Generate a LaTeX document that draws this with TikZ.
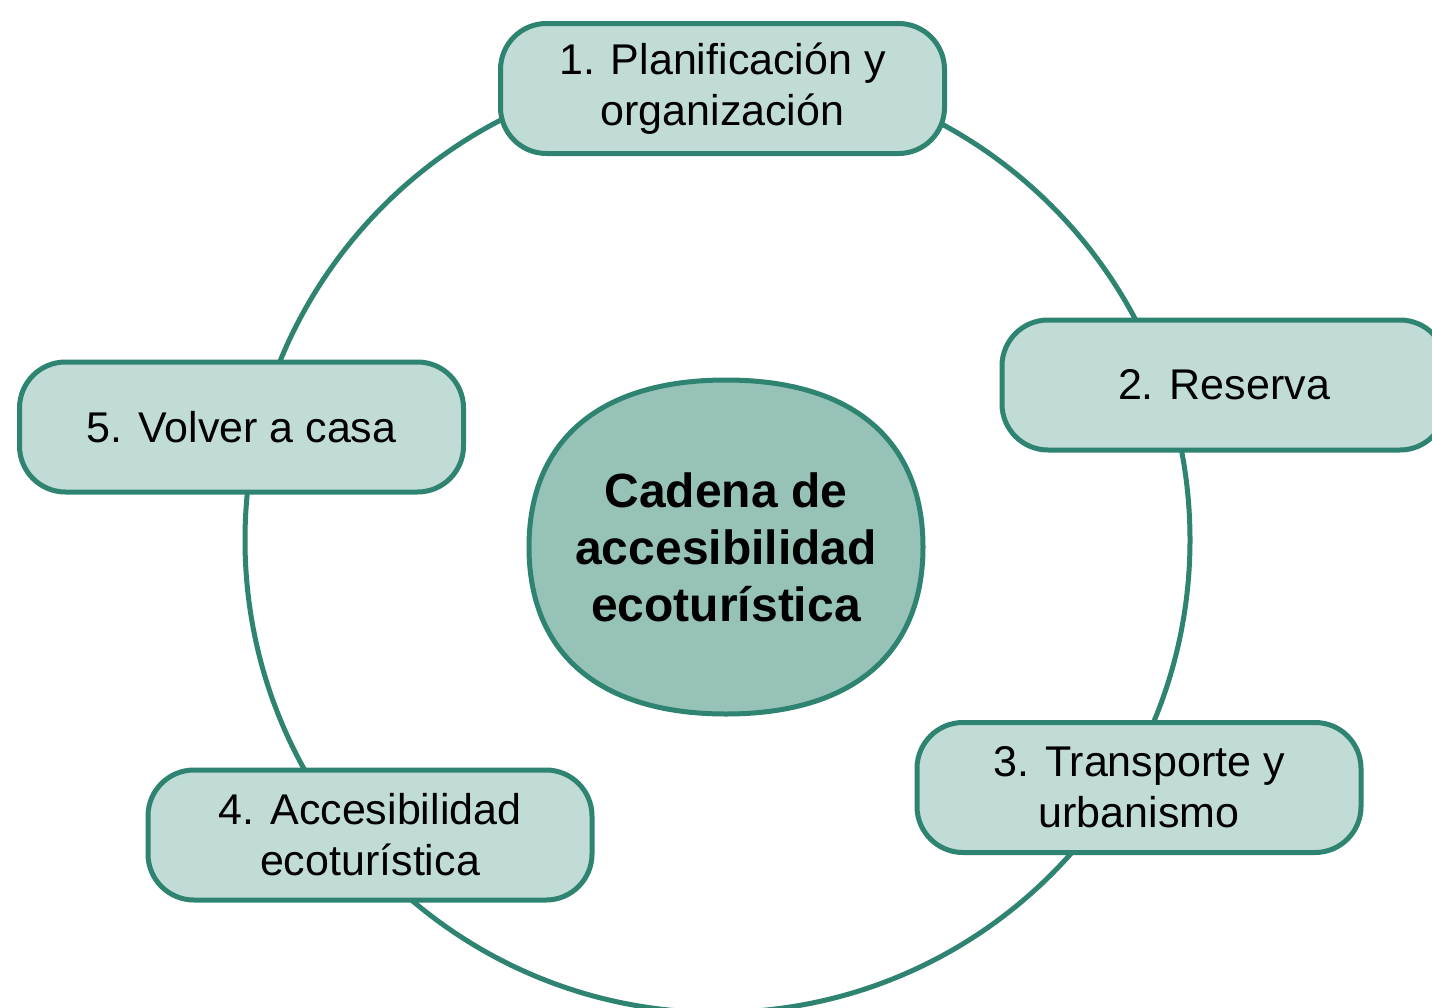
\documentclass[tikz,border=0pt]{standalone}
\usepackage{fontspec}
\setmainfont{Liberation Sans}
\definecolor{edgegreen}{HTML}{2E8470}
\definecolor{boxfill}{HTML}{C1DCD6}
\definecolor{hubfill}{HTML}{97C2B8}
\tikzset{
  ring/.style={draw=edgegreen, line width=5pt},
  stepbox/.style={draw=edgegreen, fill=boxfill, line width=5pt, rounded corners=46pt,
    minimum width=444pt, minimum height=130pt, inner sep=0pt, align=center,
    font=\fontsize{43}{51}\selectfont},
  hubshape/.style={draw=edgegreen, fill=hubfill, line width=5pt},
  hub/.style={inner sep=0pt, align=center,
    font=\fontsize{48}{57}\selectfont\bfseries}
}
\begin{document}
\begin{tikzpicture}[x=1pt,y=-1pt]
\useasboundingbox (0,0) rectangle (1432,1007);
\fill[white] (0,0) rectangle (1432,1007);
\draw[ring] (717.5,540) circle[radius=472.5pt];
\coordinate (hubc) at (726,547);
\draw[hubshape, shift={(hubc)}] (197,0) .. controls (197,-107) and (126,-167) .. (0,-167)
  .. controls (-126,-167) and (-197,-107) .. (-197,0)
  .. controls (-197,107) and (-126,167) .. (0,167)
  .. controls (126,167) and (197,107) .. (197,0) -- cycle;
\node[hub] (hub) at (hubc) {Cadena de\\accesibilidad\\ecoturística};
\node[stepbox] (s1) at (722.5,88.5) {1. Planificación y\\organización};
\node[stepbox] (s2) at (1224,385) {2. Reserva};
\node[stepbox] (s3) at (1139,787.5) {3. Transporte y\\urbanismo};
\node[stepbox] (s4) at (370,835) {4. Accesibilidad\\ecoturística};
\node[stepbox] (s5) at (241.5,427) {5. Volver a casa};
\end{tikzpicture}
\end{document}
